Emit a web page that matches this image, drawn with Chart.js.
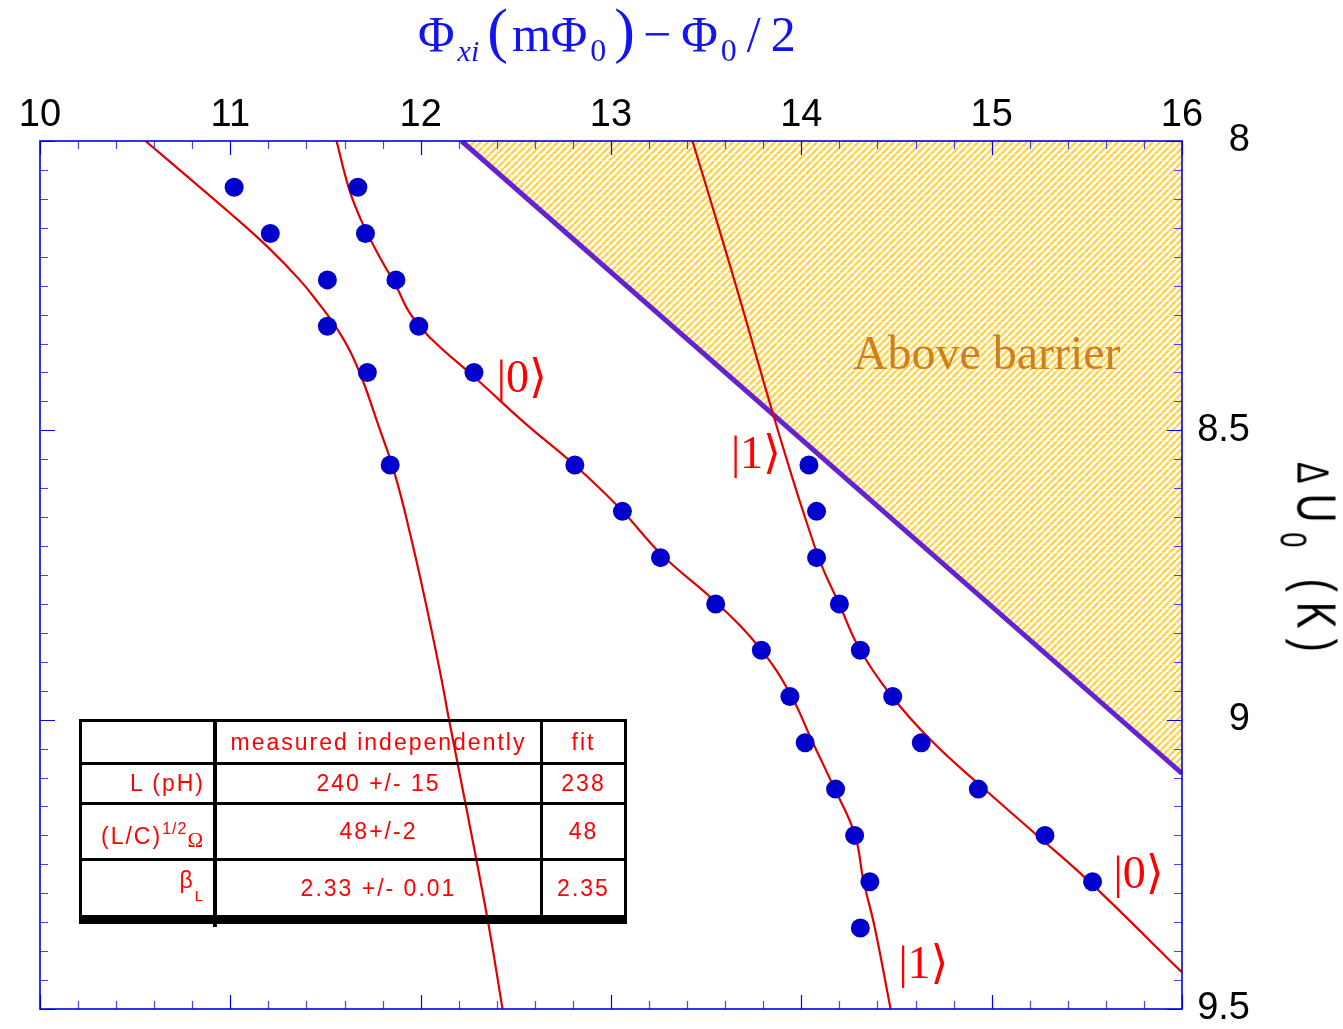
<!DOCTYPE html>
<html>
<head>
<meta charset="utf-8">
<script src="https://cdn.jsdelivr.net/npm/chart.js@4.4.1/dist/chart.umd.min.js"></script>
<style>
html,body{margin:0;padding:0;background:#fff}
#wrap{position:relative;width:1343px;height:1029px;overflow:hidden}
#c{position:absolute;left:0;top:0}
#xtitle{position:absolute;left:418px;top:-5px;font:50px "Liberation Serif","DejaVu Serif",serif;color:#1414ee;white-space:nowrap}
#xtitle sub{font-size:32px;vertical-align:-10px;margin-left:3px}
#xtitle sub i{font-size:30px}
#xtitle .par{font-size:62px;margin-left:8px}
#xtitle .m{margin-left:4px}
#xtitle .op{margin-left:8px}
#xtitle .op2{margin-left:10px}
#ytitle{position:absolute;left:1309px;top:562px;font:40px "Liberation Sans",Arial,sans-serif;letter-spacing:10px;color:#000;white-space:nowrap;transform:translate(-50%,-50%) rotate(90deg) scaleY(1.4)}
#ytitle .d{font-size:32px}
#ytitle sub{font-size:27px;vertical-align:-12px}
#tbl{position:absolute;left:79px;top:719px;width:548px;height:208px}
#tbl .ln{position:absolute;background:#000}
#tbl .cell{position:absolute;display:flex;align-items:center;font:23px "Liberation Sans",Arial,sans-serif;letter-spacing:2px;color:#ff0000;white-space:nowrap}
#tbl .c1{left:3px;width:123px;justify-content:flex-end}
#tbl .c2{left:138px;width:323px;justify-content:center}
#tbl .c3{left:464px;width:81px;justify-content:center}
#tbl sup{font-size:16px;vertical-align:10px;letter-spacing:1px}
#tbl sub{font-size:15px;vertical-align:-13px}
#tbl .om{font:21px "Liberation Serif",serif;vertical-align:-3px}
</style>
</head>
<body>
<div id="wrap">
<canvas id="c" width="1343" height="1029"></canvas>
<div id="xtitle">Φ<sub><i>xi</i></sub><span class="par">(</span><span class="m">m</span>Φ<sub>0</sub><span class="par">)</span><span class="op">−</span><span class="op2">Φ</span><sub>0</sub><span class="op2">/</span><span class="op2">2</span></div>
<div id="ytitle"><span class="d">Δ</span>U<sub>0</sub> (K)</div>
<div id="tbl">
 <div class="ln" style="left:0;top:0;width:548px;height:3px"></div>
 <div class="ln" style="left:0;top:0;width:3px;height:205px"></div>
 <div class="ln" style="left:545px;top:0;width:3px;height:205px"></div>
 <div class="ln" style="left:134px;top:0;width:4px;height:208px"></div>
 <div class="ln" style="left:461px;top:0;width:3px;height:205px"></div>
 <div class="ln" style="left:0;top:43px;width:548px;height:3px"></div>
 <div class="ln" style="left:0;top:83px;width:548px;height:3px"></div>
 <div class="ln" style="left:0;top:139px;width:548px;height:3px"></div>
 <div class="ln" style="left:0;top:196px;width:548px;height:9px"></div>

 <div class="cell c2" style="top:3px;height:40px"><span>measured independently</span></div>
 <div class="cell c3" style="top:3px;height:40px"><span>fit</span></div>

 <div class="cell c1" style="top:46px;height:37px"><span>L (pH)</span></div>
 <div class="cell c2" style="top:46px;height:37px"><span>240 +/- 15</span></div>
 <div class="cell c3" style="top:46px;height:37px"><span>238</span></div>

 <div class="cell c1" style="top:86px;height:53px;padding-top:10px;box-sizing:border-box"><span>(L/C)<sup>1/2</sup><span class="om">Ω</span></span></div>
 <div class="cell c2" style="top:86px;height:53px"><span>48+/-2</span></div>
 <div class="cell c3" style="top:86px;height:53px"><span>48</span></div>

 <div class="cell c1" style="top:142px;height:54px;padding-bottom:6px;box-sizing:border-box"><span>β<sub>L</sub></span></div>
 <div class="cell c2" style="top:142px;height:54px"><span>2.33 +/- 0.01</span></div>
 <div class="cell c3" style="top:142px;height:54px"><span>2.35</span></div>
</div>
</div>
<script>
// tick labels
const xTicks = [10, 11, 12, 13, 14, 15, 16];
const yTicks = [8, 8.5, 9, 9.5];

// measured points
const dotsAX = [11.02, 11.21, 11.51, 11.51, 11.72, 11.84];
const dotsAY = [8.08, 8.16, 8.24, 8.32, 8.40, 8.56];
const dotsBX = [11.67, 11.71, 11.87, 11.99, 12.28, 12.81, 13.06, 13.26, 13.55, 13.79, 13.94, 14.02, 14.18, 14.28, 14.36, 14.31];
const dotsBY = [8.08, 8.16, 8.24, 8.32, 8.40, 8.56, 8.64, 8.72, 8.80, 8.88, 8.96, 9.04, 9.12, 9.20, 9.28, 9.36];
const dotsCX = [14.04, 14.08, 14.08, 14.20, 14.31, 14.48, 14.63, 14.93, 15.28, 15.53];
const dotsCY = [8.56, 8.64, 8.72, 8.80, 8.88, 8.96, 9.04, 9.12, 9.20, 9.28];

// fitted curves
const fitLeftX = [10.554, 10.733, 10.996, 11.196, 11.364, 11.458, 11.548, 11.626, 11.695, 11.768, 11.863, 11.952, 12.031, 12.110, 12.146, 12.252, 12.357, 12.430];
const fitLeftY = [8.000, 8.050, 8.124, 8.183, 8.240, 8.278, 8.318, 8.361, 8.413, 8.482, 8.574, 8.689, 8.805, 8.931, 8.995, 9.173, 9.355, 9.500];
const fitMidX = [11.558, 11.626, 11.694, 11.784, 11.873, 11.942, 12.047, 12.299, 12.546, 12.809, 13.056, 13.266, 13.555, 13.786, 13.943, 14.054, 14.170, 14.280, 14.327, 14.385, 14.469];
const fitMidY = [8.000, 8.085, 8.142, 8.200, 8.252, 8.297, 8.339, 8.413, 8.487, 8.560, 8.638, 8.715, 8.798, 8.878, 8.956, 9.035, 9.116, 9.197, 9.279, 9.358, 9.500];
const fitRightX = [13.428, 13.570, 13.701, 13.822, 13.948, 14.033, 14.106, 14.196, 14.306, 14.469, 14.685, 14.948, 15.232, 15.510, 15.998];
const fitRightY = [8.000, 8.154, 8.300, 8.439, 8.577, 8.664, 8.733, 8.798, 8.878, 8.957, 9.037, 9.116, 9.198, 9.279, 9.436];

// barrier top
const barrierX = [12.215, 16];
const barrierY = [8.000, 9.093];

const pts = (xs, ys) => xs.map((x, i) => ({x, y: ys[i]}));

function hatch() {
 const s = 7, c = document.createElement('canvas');
 c.width = c.height = s;
 const g = c.getContext('2d');
 g.strokeStyle = '#ffd34a';
 g.lineWidth = 2.6;
 g.beginPath();
 for (const k of [-1, 0, 1]) { g.moveTo(k * s, s); g.lineTo(k * s + s, 0); }
 g.stroke();
 return g.createPattern(c, 'repeat');
}

const frame = {
 id: 'frame',
 afterDatasetsDraw(chart) {
  const {ctx, chartArea: a, scales: {x, y}} = chart;
  ctx.save();
  ctx.lineWidth = 1.2;
  x.ticks.forEach(t => {
   const px = Math.round(x.getPixelForValue(t.value)) + 0.5;
   const major = xTicks.some(v => Math.abs(v - t.value) < 1e-6);
   const len = major ? 14 : 8;
   ctx.strokeStyle = major ? '#0000ff' : '#4646e0';
   ctx.beginPath();
   ctx.moveTo(px, a.top); ctx.lineTo(px, a.top + len);
   ctx.moveTo(px, a.bottom); ctx.lineTo(px, a.bottom - len);
   ctx.stroke();
  });
  y.ticks.forEach(t => {
   const py = Math.round(y.getPixelForValue(t.value)) + 0.5;
   const major = yTicks.some(v => Math.abs(v - t.value) < 1e-6);
   const len = major ? 15 : 8;
   ctx.strokeStyle = major ? '#0000ff' : '#4646e0';
   ctx.beginPath();
   ctx.moveTo(a.left, py); ctx.lineTo(a.left + len, py);
   ctx.moveTo(a.right, py); ctx.lineTo(a.right - len, py);
   ctx.stroke();
  });
  ctx.lineWidth = 1.6;
  ctx.strokeStyle = '#0000ee';
  ctx.strokeRect(a.left, a.top, a.right - a.left, a.bottom - a.top);
  ctx.restore();
 }
};

const notes = {
 id: 'notes',
 afterDatasetsDraw(chart) {
  const {ctx, scales: {x, y}} = chart;
  ctx.save();
  ctx.textAlign = 'left';
  ctx.textBaseline = 'middle';
  ctx.fillStyle = '#ff0000';
  ctx.font = '46px "Liberation Serif", "DejaVu Serif", serif';
  [['|0⟩', 12.40, 8.413], ['|1⟩', 13.63, 8.544], ['|0⟩', 15.64, 9.270], ['|1⟩', 14.51, 9.426]]
   .forEach(([s, vx, vy]) => ctx.fillText(s, x.getPixelForValue(vx), y.getPixelForValue(vy)));
  ctx.textBaseline = 'alphabetic';
  ctx.fillStyle = '#cf7f1d';
  ctx.font = '48px "Liberation Serif", serif';
  ctx.fillText('Above barrier', x.getPixelForValue(14.27), y.getPixelForValue(8.394));
  ctx.restore();
 }
};

const dot = {showLine: false, pointRadius: 9.5, pointBackgroundColor: '#0000cc', pointBorderWidth: 0, order: 0};
const fit = {showLine: true, pointRadius: 0, borderColor: '#e00000', borderWidth: 2.2, tension: 0.4, fill: false, order: 1};
const tickFont = {size: 38, family: '"Liberation Sans", Arial, sans-serif'};

new Chart(document.getElementById('c'), {
 type: 'scatter',
 data: {
  datasets: [
   {...dot, label: 'left points', data: pts(dotsAX, dotsAY)},
   {...dot, label: 'middle points', data: pts(dotsBX, dotsBY)},
   {...dot, label: 'right points', data: pts(dotsCX, dotsCY)},
   {...fit, label: 'left fit', data: pts(fitLeftX, fitLeftY)},
   {...fit, label: 'middle fit', data: pts(fitMidX, fitMidY)},
   {...fit, label: 'right fit', data: pts(fitRightX, fitRightY)},
   {label: 'barrier', data: pts(barrierX, barrierY), showLine: true, pointRadius: 0,
    borderColor: '#6622cc', borderWidth: 5, fill: {value: 8}, backgroundColor: hatch(), order: 2}
  ]
 },
 options: {
  responsive: false,
  animation: false,
  devicePixelRatio: 1,
  layout: {padding: {left: 40, right: 93, bottom: 20}},
  plugins: {legend: {display: false}, tooltip: {enabled: false}},
  scales: {
   x: {
    type: 'linear', position: 'top', min: 10, max: 16,
    afterFit(s) { s.height = 141; s.paddingLeft = 0; s.paddingRight = 0; },
    grid: {display: false, drawTicks: false}, border: {display: false},
    ticks: {stepSize: 0.2, autoSkip: false, maxRotation: 0, padding: 3, color: '#000', font: tickFont,
     callback: v => { const t = xTicks.find(k => Math.abs(k - v) < 1e-6); return t === undefined ? '' : String(t); }}
   },
   y: {
    type: 'linear', position: 'right', reverse: true, min: 8, max: 9.5,
    afterFit(s) { s.width = 68; s.paddingTop = 0; s.paddingBottom = 0; },
    grid: {display: false, drawTicks: false}, border: {display: false},
    ticks: {stepSize: 0.05, autoSkip: false, padding: 8, crossAlign: 'far', color: '#000', font: tickFont,
     callback: v => { const t = yTicks.find(k => Math.abs(k - v) < 1e-6); return t === undefined ? '' : String(t); }}
   }
  }
 },
 plugins: [frame, notes]
});
</script>
</body>
</html>
